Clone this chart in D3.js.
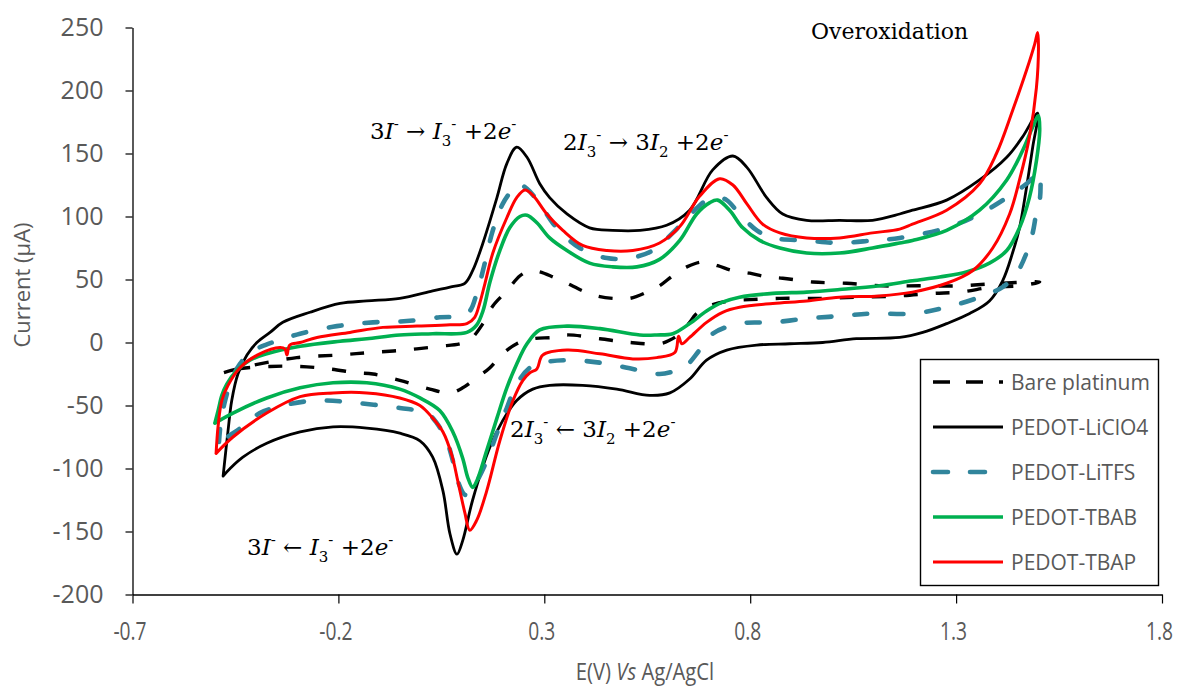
<!DOCTYPE html>
<html><head><meta charset="utf-8">
<script src="https://cdn.jsdelivr.net/npm/d3@7"></script>
<style>
body{margin:0;background:#fff;}
svg{display:block;}
text{white-space:pre;}
</style></head><body>
<svg id="chart" width="1183" height="686"></svg>
<script>
// ---------- DATA ----------
const xTicks = [-0.7, -0.2, 0.3, 0.8, 1.3, 1.8];
const yTicks = [-200, -150, -100, -50, 0, 50, 100, 150, 200, 250];
const seriesNames = ["Bare platinum", "PEDOT-LiClO4", "PEDOT-LiTFS", "PEDOT-TBAB", "PEDOT-TBAP"];

// Bare platinum (E in V, I in µA), closed CV loop
const bareE = [-0.478,-0.446,-0.391,-0.301,-0.204,-0.124,-0.039,0.046,0.095,0.119,0.151,0.175,0.209,0.241,0.265,0.289,0.321,0.355,0.393,0.427,0.466,0.508,0.549,0.580,0.612,0.646,0.685,0.721,0.758,0.799,0.840,0.879,0.952,1.034,1.122,1.211,1.309,1.406,1.503,
  1.454,1.389,1.309,1.243,1.163,1.066,0.969,0.872,0.799,0.750,0.709,0.670,0.653,0.629,0.605,0.580,0.508,0.435,0.355,0.321,0.272,0.233,0.199,0.168,0.136,0.102,0.071,0.022,-0.051,-0.116,-0.155,-0.221,-0.293,-0.366,-0.446,-0.478];
const bareI = [-24,-21,-17,-12,-10,-8,-6,-3,-1,2,15,29,41,53,57,56,52,47,41,37,35,35,40,45,53,60,64,61,57,55,52,51,48,47,45,45,45,47,48,
  45,44,40,39,37,36,35,35,34,33,30,23,16,7,2,-1,0,3,6,4,3,-1,-9,-20,-28,-36,-40,-37,-30,-25,-24,-21,-19,-19,-21,-24];

// PEDOT-LiClO4
const licE = [-0.480,-0.468,-0.459,-0.444,-0.422,-0.398,-0.366,-0.335,-0.269,-0.196,
  -0.131,-0.051,0.029,0.071,0.107,0.126,0.151,0.185,0.209,0.233,
  0.258,0.289,0.313,0.355,0.410,0.466,0.532,0.597,0.653,0.709,
  0.758,0.792,0.840,0.879,0.937,1.017,1.097,1.163,1.194,1.277,
  1.357,1.423,1.461,1.498,
  1.486,1.471,1.454,1.437,1.413,1.381,1.333,1.277,1.219,1.163,
  1.058,0.976,0.896,0.816,0.743,0.694,0.653,0.605,0.556,0.476,
  0.393,0.313,0.272,0.233,0.199,0.168,0.126,0.102,0.088,0.071,
  0.054,0.029,-0.002,-0.051,-0.131,-0.213,-0.293,-0.374,-0.432,-0.463,
  -0.480];
const licI = [-106,-70,-46,-25,-10,0,8,16,24,31,
  33,35,41,44,47,57,79,115,142,155,
  147,126,115,102,91,89,89,93,105,137,
  148,139,115,102,97,97,97,102,105,113,
  129,147,163,182,
  155,123,91,71,49,33,23,15,8,4,
  3,0,-1,-2,-6,-14,-29,-40,-42,-37,
  -34,-34,-37,-46,-62,-83,-125,-157,-168,-152,
  -118,-91,-78,-72,-68,-67,-71,-80,-91,-100,
  -106];

// PEDOT-LiTFS
const tfsE = [-0.490,-0.485,-0.475,-0.459,-0.439,-0.415,-0.378,-0.342,-0.293,-0.204,
  -0.116,-0.034,0.046,0.095,0.119,0.136,0.151,0.175,0.199,0.224,
  0.236,0.258,0.289,0.330,0.386,0.452,0.508,0.563,0.612,0.653,
  0.694,0.719,0.743,0.774,0.816,0.855,0.937,1.017,1.097,1.163,
  1.277,1.357,1.437,1.471,1.491,1.503,
  1.505,1.503,1.495,1.486,1.471,1.447,1.413,1.357,1.277,1.194,
  1.097,1.017,0.937,0.855,0.774,0.709,0.677,0.646,0.622,0.580,
  0.515,0.435,0.355,0.296,0.265,0.233,0.209,0.185,0.160,0.136,
  0.109,0.090,0.078,0.063,0.039,0.015,-0.051,-0.155,-0.252,-0.335,
  -0.391,-0.422,-0.451,-0.490];
const tfsI = [-79,-62,-46,-29,-17,-8,-2,2,7,13,
  16,17,20,21,25,39,57,89,110,122,
  126,122,110,91,75,67,67,73,87,101,
  113,115,113,102,89,83,81,79,81,83,
  91,102,118,126,132,135,
  123,113,103,87,71,55,44,36,28,23,
  23,21,19,16,15,7,-6,-18,-22,-25,
  -21,-16,-14,-16,-20,-33,-52,-72,-94,-110,
  -121,-110,-94,-78,-64,-56,-52,-48,-46,-50,
  -56,-64,-71,-79];

// PEDOT-TBAB
const tbabE = [-0.500,-0.492,-0.483,-0.471,-0.446,-0.415,-0.374,-0.293,-0.196,-0.131,
  -0.051,0.029,0.112,0.136,0.151,0.168,0.192,0.216,0.241,0.258,
  0.282,0.313,0.355,0.410,0.466,0.525,0.580,0.629,0.670,0.702,
  0.721,0.750,0.782,0.823,0.872,0.937,1.017,1.097,1.163,1.194,
  1.277,1.357,1.423,1.461,1.486,1.500,
  1.503,1.495,1.478,1.454,1.423,1.381,1.325,1.260,1.194,1.114,
  1.017,0.937,0.855,0.774,0.733,0.694,0.653,0.612,0.573,0.532,
  0.435,0.355,0.289,0.258,0.233,0.209,0.185,0.160,0.136,0.126,
  0.114,0.102,0.078,0.046,-0.002,-0.051,-0.131,-0.213,-0.293,-0.374,
  -0.456,-0.500];
const tbabI = [-64,-54,-42,-33,-22,-14,-9,-3,1,3,
  6,7,8,14,25,48,73,91,100,101,
  95,83,73,63,60,60,66,81,102,111,
  113,105,91,81,75,71,71,75,79,81,
  89,105,129,152,171,180,
  168,144,115,91,73,63,56,52,49,45,
  42,40,39,36,32,25,15,7,6,6,
  11,13,10,-1,-17,-36,-60,-86,-110,-115,
  -107,-92,-71,-54,-44,-37,-32,-32,-36,-44,
  -56,-64];

// PEDOT-TBAP
const tbapE = [-0.497,-0.492,-0.483,-0.468,-0.439,-0.391,-0.342,-0.330,-0.325,-0.318,
  -0.293,-0.252,-0.172,-0.092,-0.009,0.071,0.112,0.131,0.143,0.156,
  0.175,0.209,0.233,0.253,0.272,0.306,0.345,0.393,0.452,0.515,
  0.580,0.629,0.677,0.726,0.758,0.792,0.830,0.872,0.937,1.017,
  1.097,1.163,1.194,1.277,1.357,1.398,1.437,1.471,1.491,1.498,
  1.500,1.495,1.478,1.454,1.430,1.389,1.340,1.277,1.194,1.114,
  1.017,0.937,0.855,0.774,0.733,0.694,0.653,0.634,0.626,0.617,
  0.573,0.515,0.435,0.355,0.296,0.282,0.265,0.248,0.224,0.192,
  0.160,0.136,0.119,0.107,0.090,0.076,0.054,0.029,-0.002,-0.051,
  -0.131,-0.213,-0.293,-0.374,-0.456,-0.497];
const tbapI = [-88,-66,-46,-34,-20,-9,-4,-5,-10,-2,
  0,4,8,12,13,14,15,20,31,47,
  71,99,115,121,117,102,89,77,73,73,
  79,92,116,130,125,110,94,87,83,83,
  87,90,94,105,126,150,184,216,237,246,
  236,202,163,129,102,75,57,47,40,37,
  36,33,31,28,24,16,4,-1,5,-8,
  -12,-13,-9,-6,-10,-21,-24,-30,-46,-78,
  -118,-141,-149,-135,-110,-90,-71,-60,-50,-44,
  -40,-40,-43,-56,-75,-88];

// ---------- STYLES ----------
const seriesData = [[bareE, bareI], [licE, licI], [tfsE, tfsI], [tbabE, tbabI], [tbapE, tbapI]];
const styles = [
  {color: "#000000", width: 3.4, dash: "14,18", cap: "butt"},
  {color: "#000000", width: 2.8, dash: null, cap: "round"},
  {color: "#31859C", width: 4.6, dash: "13,23", cap: "round"},
  {color: "#00B050", width: 3.6, dash: null, cap: "round"},
  {color: "#FF0000", width: 3.0, dash: null, cap: "round"}
];
const legendDash = ["17,16", null, "15,22", null, null];

// ---------- CHART ----------
const svg = d3.select("#chart");
svg.append("rect").attr("width", 1183).attr("height", 686).attr("fill", "#fff");

const x = d3.scaleLinear().domain([-0.7, 1.8]).range([132.5, 1162]);
const y = d3.scaleLinear().domain([-200, 250]).range([594.5, 27.5]);

const axisColor = "#000";
const labelColor = "#595959";

// x axis
const gx = svg.append("g").attr("transform", "translate(0,594.5)")
  .call(d3.axisBottom(x).tickValues(xTicks).tickSize(9).tickSizeOuter(0).tickPadding(18)
    .tickFormat(d => d.toFixed(1)));
gx.select(".domain").attr("stroke", axisColor).attr("stroke-width", 1.3);
gx.selectAll(".tick line").attr("stroke", axisColor).attr("stroke-width", 1.2);
gx.selectAll(".tick text").attr("fill", labelColor).attr("font-family", "Open Sans")
  .attr("font-size", 26).attr("transform", "translate(-3,0) scale(0.74,1)");

// y axis
const gy = svg.append("g").attr("transform", "translate(132.5,0)")
  .call(d3.axisLeft(y).tickValues(yTicks).tickSize(7).tickSizeOuter(0).tickPadding(22)
    .tickFormat(d => String(d)));
gy.select(".domain").attr("stroke", axisColor).attr("stroke-width", 1.3);
gy.selectAll(".tick line").attr("stroke", axisColor).attr("stroke-width", 1.2);
gy.selectAll(".tick text").attr("fill", labelColor).attr("font-family", "Open Sans")
  .attr("font-size", 25);

// axis titles
svg.append("text").attr("transform", "translate(22,285) rotate(-90)")
  .attr("text-anchor", "middle").attr("dy", "0.35em")
  .attr("font-family", "Open Sans").attr("font-size", 22).attr("fill", labelColor)
  .text("Current (µA)");
const xt = svg.append("text").attr("x", 645).attr("y", 680).attr("text-anchor", "middle")
  .attr("font-family", "Open Sans").attr("font-size", 23).attr("fill", labelColor)
  .attr("transform", "translate(645,0) scale(0.88,1) translate(-645,0)");
xt.append("tspan").text("E(V) ");
xt.append("tspan").attr("font-style", "italic").text("Vs");
xt.append("tspan").text(" Ag/AgCl");

// curves
const line = d3.line().x(d => x(d[0])).y(d => y(d[1])).curve(d3.curveCatmullRom.alpha(0.5));
const plot = svg.append("g");
seriesData.forEach((s, i) => {
  const pts = d3.zip(s[0], s[1]);
  const st = styles[i];
  plot.append("path").datum(pts).attr("d", line)
    .attr("fill", "none").attr("stroke", st.color).attr("stroke-width", st.width)
    .attr("stroke-linecap", st.cap).attr("stroke-linejoin", "round")
    .attr("stroke-dasharray", st.dash);
});

// annotations
function formula(xPos, yPos, pieces) {
  const t = svg.append("text").attr("x", xPos).attr("y", yPos)
    .attr("font-family", "DejaVu Serif").attr("font-size", 23).attr("fill", "#000");
  let cur = 0;
  pieces.forEach(p => {
    const off = p.sup ? -10 : (p.sub ? 7 : 0);
    const ts = t.append("tspan").text(p.t).attr("dy", off - cur);
    cur = off;
    if (p.sup || p.sub) ts.attr("font-size", 15);
    if (p.i) ts.attr("font-style", "italic");
  });
}
const S = "\u00A0";
formula(370, 139, [{t:"3"},{t:"I",i:1},{t:"-",sup:1},{t:S+"→"+S},{t:"I",i:1},{t:"3",sub:1},{t:"-",sup:1},{t:S+"+2"},{t:"e",i:1},{t:"-",sup:1}]);
formula(563, 150, [{t:"2"},{t:"I",i:1},{t:"3",sub:1},{t:"-",sup:1},{t:S+"→"+S+"3"},{t:"I",i:1},{t:"2",sub:1},{t:S+"+2"},{t:"e",i:1},{t:"-",sup:1}]);
formula(510, 437, [{t:"2"},{t:"I",i:1},{t:"3",sub:1},{t:"-",sup:1},{t:S+"←"+S+"3"},{t:"I",i:1},{t:"2",sub:1},{t:S+"+2"},{t:"e",i:1},{t:"-",sup:1}]);
formula(247, 555, [{t:"3"},{t:"I",i:1},{t:"-",sup:1},{t:S+"←"+S},{t:"I",i:1},{t:"3",sub:1},{t:"-",sup:1},{t:S+"+2"},{t:"e",i:1},{t:"-",sup:1}]);
svg.append("text").attr("x", 811).attr("y", 39).attr("font-family", "DejaVu Serif")
  .attr("font-size", 22).attr("fill", "#000").text("Overoxidation");

// legend
const lg = svg.append("g");
lg.append("rect").attr("x", 920.5).attr("y", 359.5).attr("width", 238).attr("height", 226)
  .attr("fill", "#fff").attr("stroke", "#000").attr("stroke-width", 1.4);
seriesNames.forEach((n, i) => {
  const yy = 382 + i * 45;
  const st = styles[i];
  lg.append("line").attr("x1", 933).attr("x2", 1003).attr("y1", yy).attr("y2", yy)
    .attr("stroke", st.color).attr("stroke-width", st.width)
    .attr("stroke-linecap", legendDash[i] && st.cap === "round" ? "round" : "butt")
    .attr("stroke-dasharray", legendDash[i]);
  lg.append("text").attr("x", 1011).attr("y", yy).attr("dy", "0.36em")
    .attr("font-family", "Open Sans").attr("font-size", 21).attr("fill", labelColor).text(n);
});
</script>
</body></html>
